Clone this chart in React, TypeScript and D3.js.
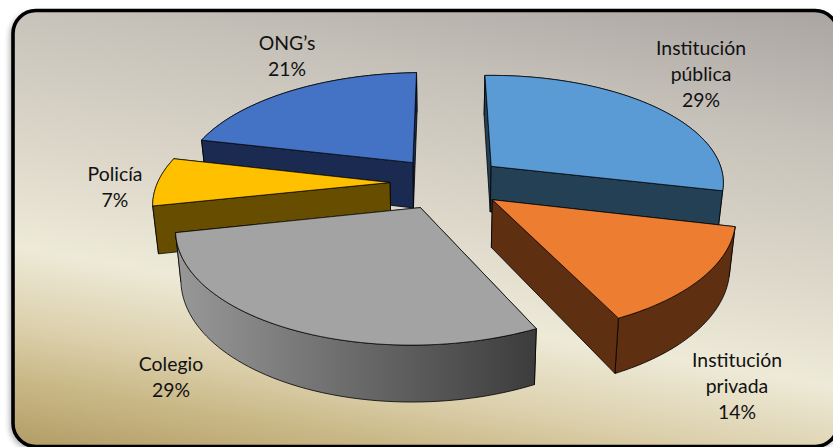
import React from "react";
import * as d3 from "d3";

// Distribution of responses by institution type
const categories = ["Institución pública", "Institución privada", "Colegio", "Policía", "ONG’s"];
const shares = [29, 14, 29, 7, 21];
const labelLines = [["Institución", "pública"], ["Institución", "privada"], ["Colegio"], ["Policía"], ["ONG’s"]];
const topColors = ["#5b9bd5", "#ed7d31", "#a3a3a3", "#ffc000", "#4472c4"];
const wallColors = ["#244055", "#5f2f12", "url(#greyWall)", "#664d00", "#1a2a50"];
const paintOrder = [4, 0, 3, 1, 2];

const W = 833;
const H = 447;

// Ground-plane projection: lines running front-to-back converge on a vanishing point above the page
const vanishX = 442;
const vanishY = -550;
const planeH = 720;
const radius = 229.5;
const centerU = 5;
const baseW = 0.9825;
const tiltW = 0.146;
const roll = 0.0105;
const explode = 0.245;
const thickness = 45.8;
const floorShrink = 0.98;

type Pt = [number, number];

function project(u: number, v: number, floor: boolean): Pt {
  const s = 1 / (baseW + tiltW * v);
  const x = vanishX + (centerU + radius * u) * s;
  const y = vanishY + planeH * s - roll * (x - vanishX);
  return floor ? [vanishX + (x - vanishX) * floorShrink, y + thickness * s] : [x, y];
}

const pieLayout = d3.pie<number>().sort(null).value((d) => d);
const arcs = pieLayout(shares);
const linePath = d3.line<Pt>();

function slicePaths(startAngle: number, endAngle: number) {
  const mid = (startAngle + endAngle) / 2;
  const ou = explode * Math.sin(mid);
  const ov = explode * Math.cos(mid);
  const steps = d3.range(0, 61).map((i) => startAngle + ((endAngle - startAngle) * i) / 60);
  const rim = (floor: boolean) =>
    steps.map((a) => project(ou + Math.sin(a), ov + Math.cos(a), floor));
  const top = rim(false);
  const low = rim(true);
  const apexTop = project(ou, ov, false);
  const apexLow = project(ou, ov, true);
  const closed = (pts: Pt[]) => (linePath(pts) as string) + "Z";
  return {
    top: closed([apexTop, ...top]),
    outer: closed([...top, ...low.slice().reverse()]),
    startWall: closed([apexTop, top[0], low[0], apexLow]),
    endWall: closed([apexTop, top[60], low[60], apexLow]),
    rimFacesViewer: Math.cos(mid) < 0,
    startFacesViewer: Math.sin(startAngle) < -1e-6,
    endFacesViewer: Math.sin(endAngle) > 1e-6,
  };
}

const labelAnchors: Record<string, { x: number; y: number }> = {
  "Institución pública": { x: 701, y: 55 },
  "Institución privada": { x: 737, y: 367 },
  Colegio: { x: 171, y: 371 },
  Policía: { x: 115, y: 181 },
  "ONG’s": { x: 287, y: 50 },
};

export default function App() {
  return (
    <svg
      width={W}
      height={H}
      viewBox={`0 0 ${W} ${H}`}
      style={{ position: "absolute", left: 0, top: 0, display: "block" }}
    >
      <defs>
        <linearGradient id="backdrop" gradientUnits="userSpaceOnUse" x1={400} y1={-57} x2={307.5} y2={487}>
          <stop offset="0" stopColor="#aba6a3" />
          <stop offset="0.25" stopColor="#c9c4bb" />
          <stop offset="0.475" stopColor="#dcd7c9" />
          <stop offset="0.66" stopColor="#eeead8" />
          <stop offset="0.8" stopColor="#dcd0ac" />
          <stop offset="0.893" stopColor="#cab988" />
          <stop offset="1" stopColor="#b5a06a" />
        </linearGradient>
        <linearGradient id="greyWall" gradientUnits="userSpaceOnUse" x1={178} y1={0} x2={537} y2={0}>
          <stop offset="0" stopColor="#989898" />
          <stop offset="0.45" stopColor="#6e6e6e" />
          <stop offset="1" stopColor="#3c3c3c" />
        </linearGradient>
        <filter id="frameShadow" x="-5%" y="-5%" width="110%" height="110%">
          <feGaussianBlur stdDeviation="2.5" />
        </filter>
      </defs>
      <rect width={W} height={H} fill="#ffffff" />
      <rect x={9} y={12} width={830} height={438} rx={24} fill="#000000" opacity={0.25} filter="url(#frameShadow)" />
      <rect x={13} y={10.5} width={825} height={436} rx={23} fill="url(#backdrop)" stroke="#000000" strokeWidth={3.6} />
      {paintOrder.map((i) => {
        const p = slicePaths(arcs[i].startAngle, arcs[i].endAngle);
        const rim = <path d={p.outer} fill={wallColors[i]} />;
        const start = <path d={p.startWall} fill={wallColors[i]} />;
        const end = <path d={p.endWall} fill={wallColors[i]} />;
        return (
          <g key={categories[i]} stroke="#000000" strokeWidth={0.8} strokeLinejoin="round">
            {!p.rimFacesViewer && rim}
            {!p.startFacesViewer && start}
            {!p.endFacesViewer && end}
            {p.rimFacesViewer && rim}
            {p.startFacesViewer && start}
            {p.endFacesViewer && end}
            <path d={p.top} fill={topColors[i]} strokeWidth={0.7} />
          </g>
        );
      })}
      <g fontFamily="Lato, 'Open Sans', sans-serif" fontSize={19.4} fill="#111111" textAnchor="middle">
        {categories.map((name, i) => {
          const a = labelAnchors[name];
          const lines = [...labelLines[i], `${shares[i]}%`];
          return (
            <text key={name} x={a.x} y={a.y}>
              {lines.map((t, j) => (
                <tspan key={j} x={a.x} dy={j === 0 ? 0 : 26}>
                  {t}
                </tspan>
              ))}
            </text>
          );
        })}
      </g>
    </svg>
  );
}
